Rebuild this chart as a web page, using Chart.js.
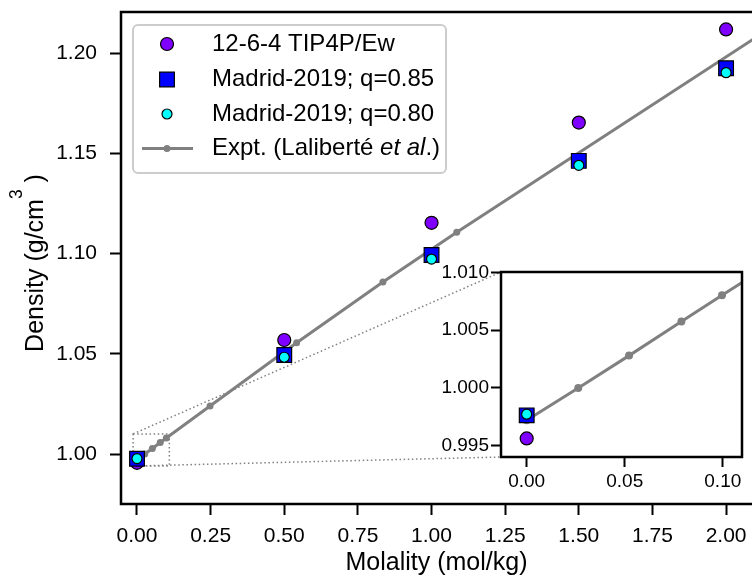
<!DOCTYPE html>
<html>
<head>
<meta charset="utf-8">
<script src="https://cdn.jsdelivr.net/npm/chart.js@4.4.1/dist/chart.umd.min.js"></script>
<style>
  html, body { margin: 0; padding: 0; background: #fff; overflow: hidden; }
  #wrap { position: relative; width: 752px; height: 576px; }
  #main { position: absolute; left: 0; top: 0; }
  #inset { position: absolute; left: 430px; top: 262px; }
</style>
</head>
<body>
<div id="wrap">
  <canvas id="main" width="752" height="576"></canvas>
  <canvas id="inset" width="322" height="250"></canvas>
</div>
<script>
// simulated densities, molality 0..2 mol/kg
const molality = [0, 0.5, 1.0, 1.5, 2.0];
const tip4pew = [0.9956, 1.0569, 1.1154, 1.1654, 1.2119];
const madrid085 = [0.9976, 1.0494, 1.0993, 1.1463, 1.1925];
const madrid080 = [0.9977, 1.0483, 1.0973, 1.1441, 1.1903];

// experiment (Laliberté)
const exptMolality = [0, 0.0263, 0.0522, 0.0789, 0.0996, 0.248, 0.542, 0.835, 1.0856, 2.2];
const exptDensity = [0.99718, 0.99997, 1.00278, 1.00574, 1.00802, 1.0240, 1.0555, 1.0858, 1.1107, 1.2173];

const legendLabels = ['12-6-4 TIP4P/Ew', 'Madrid-2019; q=0.85', 'Madrid-2019; q=0.80'];
const exptLabel = ['Expt. (Laliberté ', 'et al', '.)'];

const xTicks = [0, 0.25, 0.5, 0.75, 1.0, 1.25, 1.5, 1.75, 2.0];
const yTicks = [1.00, 1.05, 1.10, 1.15, 1.20];
const insetXTicks = [0, 0.05, 0.10];
const insetYTicks = [0.995, 1.000, 1.005, 1.010];

const FONT = "'Liberation Sans', Arial, sans-serif";
Chart.defaults.font.family = FONT;
Chart.defaults.color = '#000';

const GRAY = '#808080';
const INSET_LEFT = 430, INSET_TOP = 262;
const INSET_X = [-0.0131, 0.1098];
const INSET_Y = [0.99399, 1.01003];

const pts = (xs, ys) => xs.map((x, i) => ({ x: x, y: ys[i] }));

function makeDatasets(exptRadius) {
  return [
    { label: legendLabels[0], data: pts(molality, tip4pew), pointStyle: 'circle', pointRadius: 6.5,
      backgroundColor: '#8000ff', borderColor: '#000', borderWidth: 1.2, order: 2 },
    { label: legendLabels[1], data: pts(molality, madrid085), pointStyle: 'rect', pointRadius: 10.4,
      backgroundColor: '#0000ff', borderColor: '#000', borderWidth: 1.2, order: 1 },
    { label: legendLabels[2], data: pts(molality, madrid080), pointStyle: 'circle', pointRadius: 5,
      backgroundColor: '#00ffff', borderColor: '#000', borderWidth: 1.2, order: 0 },
    { label: exptLabel.join(''), data: pts(exptMolality, exptDensity), showLine: true,
      borderColor: GRAY, borderWidth: 3, pointRadius: exptRadius, pointBackgroundColor: GRAY,
      pointBorderWidth: 0, order: 3 }
  ];
}

function tickAxis(opts) {
  return {
    type: 'linear',
    min: opts.min, max: opts.max,
    afterBuildTicks: s => { s.ticks = opts.ticks.map(v => ({ value: v })); },
    afterFit: s => {
      if (opts.height) s.height = opts.height;
      if (opts.width) s.width = opts.width;
      s.paddingTop = s.paddingBottom = s.paddingLeft = s.paddingRight = 0;
    },
    ticks: { font: { size: opts.fontSize }, color: '#000', padding: opts.padding,
             callback: v => v.toFixed(opts.digits) },
    grid: { drawOnChartArea: false, drawTicks: true, tickLength: opts.tickLength,
            tickWidth: 2, tickColor: '#000' },
    border: { display: false },
    title: opts.title || { display: false }
  };
}

const framePlugin = {
  id: 'frame',
  afterDraw(chart, args, o) {
    const { ctx, chartArea: a } = chart;
    ctx.save();
    ctx.strokeStyle = '#000';
    ctx.lineWidth = 2.5;
    ctx.beginPath();
    if (o.full) {
      ctx.rect(a.left, a.top, a.right - a.left, a.bottom - a.top);
    } else {
      ctx.moveTo(a.right + 2, a.top);
      ctx.lineTo(a.left, a.top);
      ctx.lineTo(a.left, a.bottom);
      ctx.lineTo(a.right + 2, a.bottom);
    }
    ctx.stroke();
    ctx.restore();
  }
};

const whiteBg = {
  id: 'whiteBg',
  beforeDraw(chart) {
    const { ctx, chartArea: a } = chart;
    ctx.save();
    ctx.fillStyle = '#fff';
    ctx.fillRect(a.left, a.top, a.right - a.left, a.bottom - a.top);
    ctx.restore();
  }
};

const insetChart = new Chart(document.getElementById('inset'), {
  type: 'scatter',
  data: { datasets: makeDatasets(4) },
  options: {
    responsive: false,
    animation: false,
    layout: { autoPadding: false, padding: { top: 10, right: 10, left: 0, bottom: 0 } },
    scales: {
      x: tickAxis({ min: INSET_X[0], max: INSET_X[1], ticks: insetXTicks, digits: 2,
                    fontSize: 19, padding: 3, tickLength: 10, height: 55 }),
      y: tickAxis({ min: INSET_Y[0], max: INSET_Y[1], ticks: insetYTicks, digits: 3,
                    fontSize: 19, padding: 2, tickLength: 10, width: 71 })
    },
    plugins: { legend: { display: false }, tooltip: { enabled: false }, frame: { full: true } }
  },
  plugins: [whiteBg, framePlugin]
});

// dotted box around the zoomed region + connectors to the inset
const zoomMarks = {
  id: 'zoomMarks',
  beforeDatasetsDraw(chart) {
    const { ctx, scales: { x, y } } = chart;
    const l = x.getPixelForValue(INSET_X[0]), r = x.getPixelForValue(INSET_X[1]);
    const t = y.getPixelForValue(INSET_Y[1]), b = y.getPixelForValue(INSET_Y[0]);
    const ia = insetChart.chartArea;
    ctx.save();
    ctx.strokeStyle = GRAY;
    ctx.lineWidth = 1.5;
    ctx.setLineDash([1.5, 2.6]);
    ctx.beginPath();
    ctx.rect(l, t, r - l, b - t);
    ctx.moveTo(l, t);
    ctx.lineTo(INSET_LEFT + ia.left, INSET_TOP + ia.top);
    ctx.moveTo(l, b);
    ctx.lineTo(INSET_LEFT + ia.left, INSET_TOP + ia.bottom);
    ctx.stroke();
    ctx.restore();
  }
};

const boxLegend = {
  id: 'boxLegend',
  afterDraw(chart) {
    const ctx = chart.ctx;
    const bx = 133, by = 25, bw = 313, bh = 148;
    const rows = [44, 79.5, 114, 148.5];
    const mx = 167, tx = 212;
    ctx.save();
    ctx.beginPath();
    ctx.roundRect(bx, by, bw, bh, 5);
    ctx.fillStyle = 'rgba(255,255,255,0.8)';
    ctx.fill();
    ctx.strokeStyle = '#cccccc';
    ctx.lineWidth = 2;
    ctx.stroke();

    const ds = chart.data.datasets;
    for (let i = 0; i < 3; i++) {
      const d = ds[i];
      ctx.fillStyle = d.backgroundColor;
      ctx.strokeStyle = d.borderColor;
      ctx.lineWidth = d.borderWidth;
      ctx.beginPath();
      if (d.pointStyle === 'rect') {
        const s = d.pointRadius * Math.SQRT1_2;
        ctx.rect(mx - s, rows[i] - s, 2 * s, 2 * s);
      } else {
        ctx.arc(mx, rows[i], d.pointRadius, 0, Math.PI * 2);
      }
      ctx.fill();
      ctx.stroke();
    }
    ctx.strokeStyle = GRAY;
    ctx.lineWidth = 3;
    ctx.beginPath();
    ctx.moveTo(142, rows[3]);
    ctx.lineTo(193, rows[3]);
    ctx.stroke();
    ctx.fillStyle = GRAY;
    ctx.beginPath();
    ctx.arc(mx, rows[3], 3.5, 0, Math.PI * 2);
    ctx.fill();

    ctx.fillStyle = '#000';
    ctx.textBaseline = 'middle';
    ctx.textAlign = 'left';
    ctx.font = `24px ${FONT}`;
    for (let i = 0; i < 3; i++) ctx.fillText(legendLabels[i], tx, rows[i]);
    let x0 = tx;
    exptLabel.forEach((part, i) => {
      ctx.font = (i === 1 ? 'italic ' : '') + `24px ${FONT}`;
      ctx.fillText(part, x0, rows[3]);
      x0 += ctx.measureText(part).width;
    });
    ctx.restore();
  }
};

const yTitle = {
  id: 'yTitle',
  afterDraw(chart) {
    const ctx = chart.ctx;
    const main = 'Density (g/cm', sup = '3', tail = ' )';
    ctx.save();
    ctx.translate(43, 263);
    ctx.rotate(-Math.PI / 2);
    ctx.fillStyle = '#000';
    ctx.textBaseline = 'alphabetic';
    ctx.font = `25px ${FONT}`;
    const w1 = ctx.measureText(main).width, w3 = ctx.measureText(tail).width;
    ctx.font = `17.5px ${FONT}`;
    const w2 = ctx.measureText(sup).width;
    let x0 = -(w1 + w2 + w3) / 2;
    ctx.font = `25px ${FONT}`;
    ctx.fillText(main, x0, 0);
    ctx.font = `17.5px ${FONT}`;
    ctx.fillText(sup, x0 + w1, -21);
    ctx.font = `25px ${FONT}`;
    ctx.fillText(tail, x0 + w1 + w2, 0);
    ctx.restore();
  }
};

new Chart(document.getElementById('main'), {
  type: 'scatter',
  data: { datasets: makeDatasets(3.5) },
  options: {
    responsive: false,
    animation: false,
    layout: { autoPadding: false, padding: { top: 12, right: 0, left: 0, bottom: 0 } },
    scales: {
      x: tickAxis({ min: -0.0543, max: 2.088, ticks: xTicks, digits: 2, fontSize: 21,
                    padding: 9, tickLength: 11, height: 72,
                    title: { display: true, text: 'Molality (mol/kg)', color: '#000',
                             font: { size: 25, lineHeight: 1.05 }, padding: 0 } }),
      y: tickAxis({ min: 0.97505, max: 1.2206, ticks: yTicks, digits: 2, fontSize: 21,
                    padding: 13, tickLength: 11, width: 121 })
    },
    plugins: { legend: { display: false }, tooltip: { enabled: false }, frame: { full: false } }
  },
  plugins: [zoomMarks, framePlugin, boxLegend, yTitle]
});
</script>
</body>
</html>
